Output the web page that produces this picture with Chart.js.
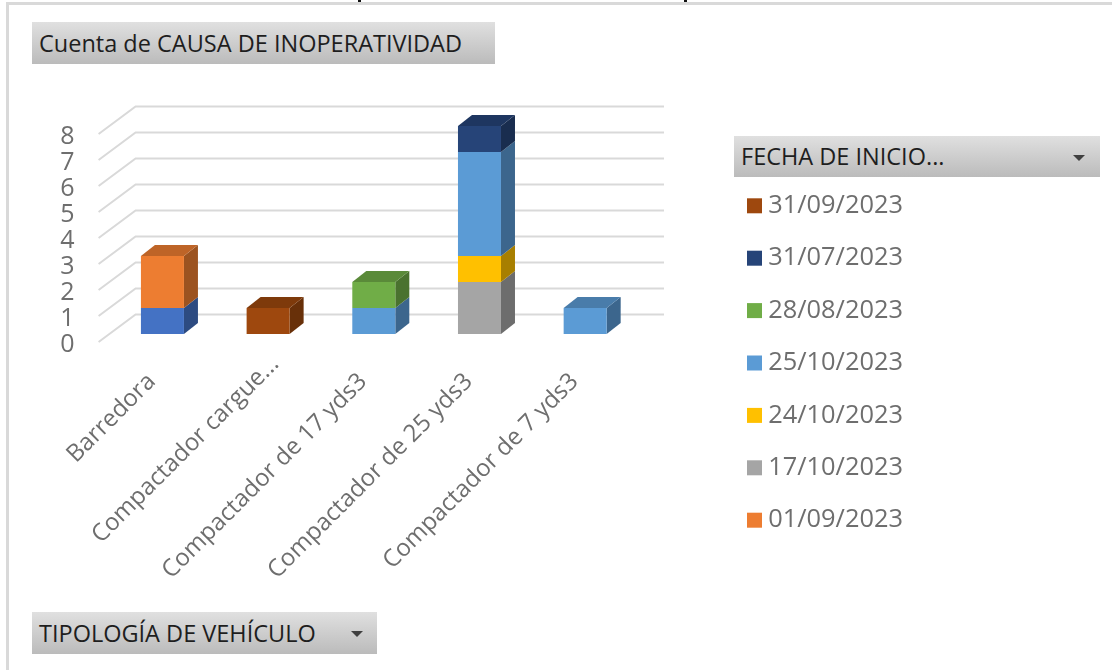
<!DOCTYPE html>
<html lang="es">
<head>
<meta charset="utf-8">
<title>Cuenta de CAUSA DE INOPERATIVIDAD</title>
<script src="https://cdn.jsdelivr.net/npm/chart.js@4"></script>
<style>
    html, body { margin: 0; padding: 0; background: #fff; }
    #wrap { position: relative; width: 1112px; height: 670px; overflow: hidden; }
    #frame { position: absolute; left: 6px; top: 2px; right: -4px; bottom: -4px; border: 3px solid #d9d9d9; }
    .crop { position: absolute; top: 0; width: 3px; height: 2px; background: #111; }
    canvas { position: absolute; left: 0; top: 0; }
    .field {
        position: absolute;
        box-sizing: border-box;
        padding-left: 7px;
        background: linear-gradient(#e0e0e0, #bbbbbb);
        color: #1e1e1e;
        font: 23.5px "Open Sans", sans-serif;
        white-space: nowrap;
    }
    .field i {
        position: absolute;
        width: 0; height: 0;
        border-left: 6px solid transparent;
        border-right: 6px solid transparent;
        border-top: 6px solid #404040;
    }
</style>
</head>
<body>
<div id="wrap">
    <div id="frame"></div>
    <div class="crop" style="left:358px;"></div>
    <div class="crop" style="left:684px;"></div>
    <canvas id="chart" width="1112" height="670"></canvas>
    <div class="field" style="left:32px;top:22px;width:463px;height:42px;line-height:42px;">Cuenta de CAUSA DE INOPERATIVIDAD</div>
    <div class="field" style="left:734px;top:136px;width:366px;height:41px;line-height:41px;">FECHA DE INICIO...<i style="right:15px;top:19px;"></i></div>
    <div class="field" style="left:32px;top:612px;width:345px;height:42px;line-height:42px;">TIPOLOGÍA DE VEHÍCULO<i style="right:14px;top:19px;"></i></div>
</div>
<script>
// Categories and tick labels
const categories = ['Barredora', 'Compactador cargue...', 'Compactador de 17 yds3', 'Compactador de 25 yds3', 'Compactador de 7 yds3'];
const yTicks = [0, 1, 2, 3, 4, 5, 6, 7, 8];

// Series, bottom of the stack first
const sinFecha = [1, 0, 0, 0, 0];
const s01_09 = [2, 0, 0, 0, 0];
const s17_10 = [0, 0, 0, 2, 0];
const s24_10 = [0, 0, 0, 1, 0];
const s25_10 = [0, 0, 1, 4, 1];
const s28_08 = [0, 0, 1, 0, 0];
const s31_07 = [0, 0, 0, 1, 0];
const s31_09 = [0, 1, 0, 0, 0];

const colors = {
    blue: '#4472C4',
    orange: '#ED7D31',
    gray: '#A5A5A5',
    gold: '#FFC000',
    sky: '#5B9BD5',
    green: '#70AD47',
    navy: '#264478',
    brown: '#9E480E',
    grid: '#D9D9D9',
    text: '#6E6E6E'
};

// Offsets of the floor and back wall against the plane of the bars
const wallFront = { x: -11, y: 8 };
const wallBack = { x: 26, y: -19.5 };
const barDepth = { x: 14, y: -11 };

function shade(hex, f) {
    const n = parseInt(hex.slice(1), 16);
    const c = [n >> 16, (n >> 8) & 255, n & 255].map(v => Math.round(v * f));
    return `rgb(${c[0]}, ${c[1]}, ${c[2]})`;
}

function poly(ctx, pts, fill) {
    ctx.fillStyle = fill;
    ctx.beginPath();
    pts.forEach((p, i) => i ? ctx.lineTo(p[0], p[1]) : ctx.moveTo(p[0], p[1]));
    ctx.closePath();
    ctx.fill();
}

// Fake 3D: back wall grid plus the side and top faces of each bar
const depth3d = {
    id: 'depth3d',
    beforeDatasetsDraw(chart) {
        const { ctx, chartArea, scales } = chart;
        ctx.save();
        ctx.strokeStyle = colors.grid;
        ctx.lineWidth = 2;
        yTicks.forEach(t => {
            const y = scales.y.getPixelForValue(t);
            ctx.beginPath();
            ctx.moveTo(chartArea.left + wallFront.x, y + wallFront.y);
            ctx.lineTo(chartArea.left + wallBack.x, y + wallBack.y);
            ctx.lineTo(chartArea.right + wallBack.x, y + wallBack.y);
            ctx.stroke();
        });

        const dx = barDepth.x, dy = barDepth.y;
        chart.data.datasets.forEach((ds, i) => {
            chart.getDatasetMeta(i).data.forEach((bar, j) => {
                if (!ds.data[j]) return;
                const left = bar.x - bar.width / 2;
                const right = bar.x + bar.width / 2;
                poly(ctx, [[right, bar.y], [right + dx, bar.y + dy], [right + dx, bar.base + dy], [right, bar.base]], shade(ds.backgroundColor, 0.66));
                const isTop = !chart.data.datasets.slice(i + 1).some(d => d.data[j]);
                if (isTop) {
                    poly(ctx, [[left, bar.y], [right, bar.y], [right + dx, bar.y + dy], [left + dx, bar.y + dy]], shade(ds.backgroundColor, 0.8));
                }
            });
        });
        ctx.restore();
    }
};

function series(label, data, color) {
    return { label, data, backgroundColor: color, borderWidth: 0, categoryPercentage: 1, barPercentage: 0.407 };
}

new Chart(document.getElementById('chart'), {
    type: 'bar',
    data: {
        labels: categories,
        datasets: [
            series('', sinFecha, colors.blue),
            series('01/09/2023', s01_09, colors.orange),
            series('17/10/2023', s17_10, colors.gray),
            series('24/10/2023', s24_10, colors.gold),
            series('25/10/2023', s25_10, colors.sky),
            series('28/08/2023', s28_08, colors.green),
            series('31/07/2023', s31_07, colors.navy),
            series('31/09/2023', s31_09, colors.brown)
        ]
    },
    plugins: [depth3d],
    options: {
        responsive: false,
        animation: false,
        layout: { padding: { left: 0, right: 209, top: 126, bottom: 70 } },
        plugins: {
            tooltip: { enabled: false },
            legend: {
                position: 'right',
                align: 'center',
                reverse: true,
                maxWidth: 183,
                labels: {
                    filter: item => item.text !== '',
                    boxWidth: 15,
                    boxHeight: 15,
                    padding: 27,
                    textAlign: 'right',
                    color: colors.text,
                    font: { family: '"Open Sans", sans-serif', size: 25.4 }
                }
            }
        },
        scales: {
            x: {
                stacked: true,
                grid: { display: false },
                border: { display: false },
                afterFit: s => { s.height = 266; },
                ticks: {
                    autoSkip: false,
                    minRotation: 45,
                    maxRotation: 45,
                    padding: 8,
                    labelOffset: 7,
                    // the cut label sits further up its slant than the others
                    callback(value) {
                        const label = this.getLabelForValue(value);
                        return label.endsWith('...') ? label : label + '    ';
                    },
                    color: colors.text,
                    font: { family: '"Open Sans", sans-serif', size: 24 }
                }
            },
            y: {
                stacked: true,
                min: 0,
                max: 8,
                grid: { display: false },
                border: { display: false },
                afterFit: s => { s.width = 109.6; },
                ticks: {
                    autoSkip: false,
                    stepSize: 1,
                    padding: 27,
                    labelOffset: 10.5,
                    color: colors.text,
                    font: { family: '"Open Sans", sans-serif', size: 25 }
                }
            },
            // empty gap between the plot and the legend
            gap: {
                position: 'right',
                grid: { display: false },
                border: { display: false },
                ticks: { display: false },
                afterFit: s => { s.width = 82; }
            }
        }
    }
});
</script>
</body>
</html>
